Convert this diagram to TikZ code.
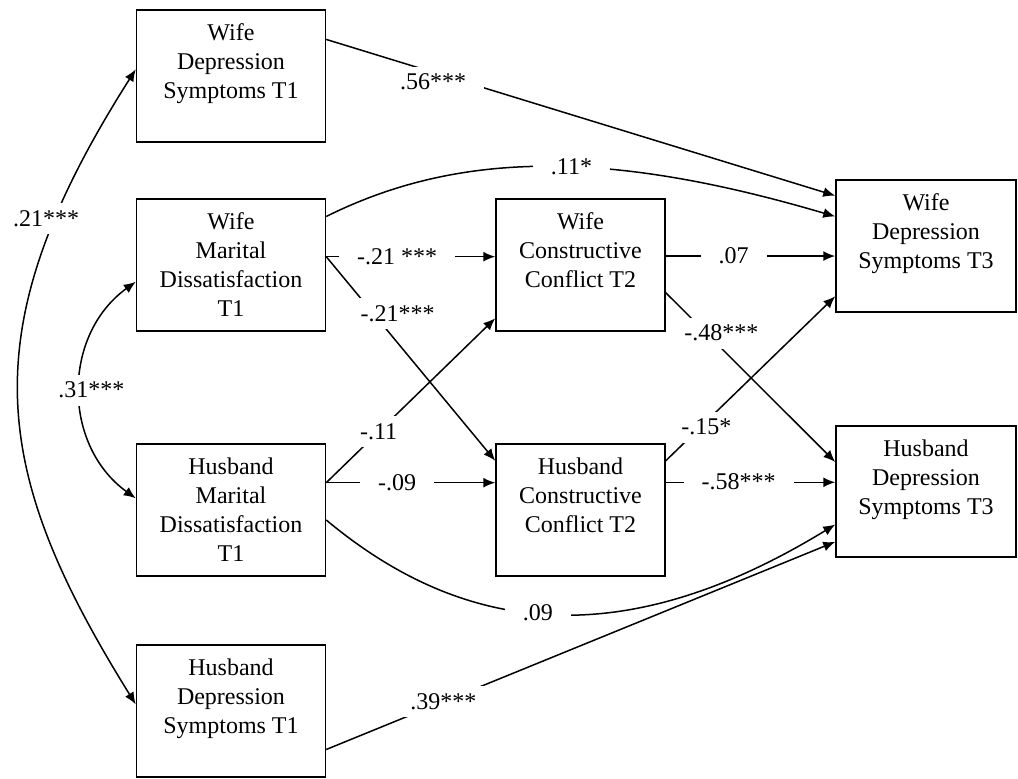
\documentclass[tikz,border=0pt]{standalone}
\usepackage{fontspec}
\setmainfont{Liberation Serif}
\usetikzlibrary{arrows.meta}

\begin{document}
\begin{tikzpicture}[x=1pt,y=1pt,yscale=-1,xscale=1,
  box/.style={draw, line width=1.5, minimum width=189, minimum height=132, inner sep=0, align=center, font=\fontsize{24}{29}\selectfont},
  effect/.style={line width=1.5, -{Latex[length=12pt,width=10pt]}},
  cov/.style={line width=1.5, {Latex[length=12pt,width=10pt]}-{Latex[length=12pt,width=10pt]}},
  coef/.style={fill=white, inner xsep=18, inner ysep=6, text height=17, text depth=2, font=\fontsize{24}{29}\selectfont}]
\useasboundingbox (0,0) rectangle (1018,779);

% time 1
\draw (231,76) node [box] (wdep1) {Wife\\Depression\\Symptoms T1\\\mbox{}};
\draw (231,265) node [box] (wmar) {Wife\\Marital\\Dissatisfaction\\T1};
\draw (231,510) node [box] (hmar) {Husband\\Marital\\Dissatisfaction\\T1};
\draw (231,711) node [box] (hdep1) {Husband\\Depression\\Symptoms T1\\\mbox{}};
% time 2
\draw (580.5,265) node [box, minimum width=169] (wcon) {Wife\\Constructive\\Conflict T2\\\mbox{}};
\draw (580.5,510) node [box, minimum width=169] (hcon) {Husband\\Constructive\\Conflict T2\\\mbox{}};
% time 3
\draw (926,246) node [box, minimum width=180] (wdep3) {Wife\\Depression\\Symptoms T3\\\mbox{}};
\draw (926,491.5) node [box, minimum width=180, minimum height=131] (hdep3) {Husband\\Depression\\Symptoms T3\\\mbox{}};

\draw [effect] (wdep1.21) -- (wdep3.151) node [coef, pos=0.21, shift={(0,-10)}] {.56***};
\draw [effect] (wmar.27) .. controls (460,150) and (610,150) .. (wdep3.162) node [coef, pos=0.55] {.11*};
\draw [effect] (wmar.5) -- (wmar.5 -| wcon.west) node [coef, pos=0.42] {-.21 ***};
\draw [effect] (wmar.5) -- (hcon.150) node [coef, pos=0.28, shift={(24,0)}] {-.21***};
\draw [effect] (hmar.16) -- (wcon.212) node [coef, pos=0.31] {-.11};
\draw [effect] (hmar.16) -- (hmar.16 -| hcon.west) node [coef, pos=0.42] {-.09};
\draw [effect] (hmar.354) .. controls (470,640) and (630,650) .. (hdep3.200) node [coef, pos=0.46] {.09};
\draw [effect] (wcon.6) -- (wcon.6 -| wdep3.west) node [coef, pos=0.4] {.07};
\draw [effect] (wcon.342) -- (hdep3.162) node [coef, pos=0.24, shift={(15,0)}] {-.48***};
\draw [effect] (hcon.30) -- (wdep3.209) node [coef, pos=0.24, shift={(0,-6)}] {-.15*};
\draw [effect] (hcon.18) -- (hcon.18 -| hdep3.west) node [coef, pos=0.43] {-.58***};
\draw [effect] (hdep1.338) -- (hdep3.209) node [coef, pos=0.23] {.39***};

\draw [cov] (wmar.190) .. controls (62,335) and (62,445) .. (hmar.173) node [coef, pos=0.5, shift={(11,0)}] {.31***};
\draw [cov] (wdep1.176) .. controls (-30,330) and (-10,470) .. (hdep1.176) node [coef, pos=0.2, shift={(-12,-6)}] {.21***};

\end{tikzpicture}
\end{document}
